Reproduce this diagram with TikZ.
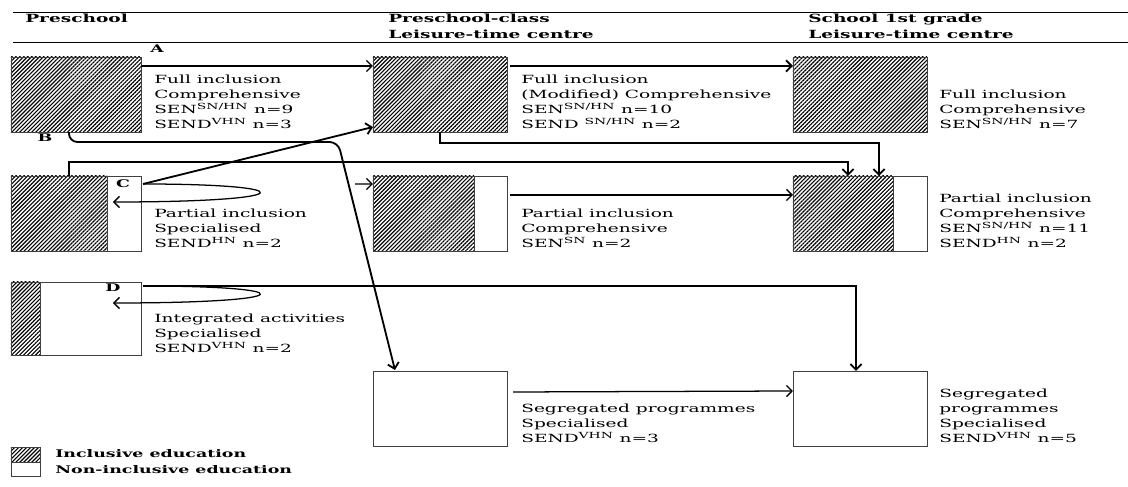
\documentclass[tikz,border=0pt]{standalone}
\usepackage{fontspec}
\setmainfont{DejaVu Serif}[FakeStretch=1.65]
\usetikzlibrary{calc,patterns.meta,arrows.meta}

\tikzset{
  stage/.style={draw=black!75, line width=0.6pt, minimum width=3.35cm, minimum height=1.875cm, inner sep=0pt, outer sep=0pt},
  incl/.style={pattern={Lines[angle=45,distance=2pt,line width=0.8pt]}},
  part/.style={path picture={
    \fill[incl] (path picture bounding box.south west) rectangle ([xshift=#1]path picture bounding box.north west);
    \draw[black!75, line width=0.6pt] ([xshift=#1]path picture bounding box.south west) -- ([xshift=#1]path picture bounding box.north west);}},
  info/.style={anchor=north west, align=left, inner sep=0pt, font=\fontsize{8}{10.7}\selectfont},
  head/.style={anchor=north west, align=left, inner sep=0pt, font=\fontsize{8}{11.4}\selectfont\bfseries},
  tag/.style={inner sep=0pt, font=\fontsize{7.5}{10}\selectfont\bfseries},
  flow/.style={->, line width=1.3pt},
  thinflow/.style={->, line width=0.9pt},
  >={Straight Barb[length=4pt,width=8pt]}
}

\begin{document}
\begin{tikzpicture}[x=0.025cm,y=-0.025cm]
\useasboundingbox (0,0) rectangle (1128,486);
\draw[line width=0.6pt] (13,12) -- (1128,12);
\draw[line width=0.6pt] (13,42) -- (1128,42);
\node[head] (h1) at (25,14) {Preschool};
\node[head] (h2) at (388,14) {Preschool-class\\Leisure-time centre};
\node[head] (h3) at (808,14) {School 1st grade\\Leisure-time centre};

\node[stage, incl, minimum width=3.25cm] (A1) at (76,94.5) {};
\node[stage, incl] (A2) at (440,94.5) {};
\node[stage, incl] (S1) at (860,94.5) {};
\node[stage, part=2.4cm, minimum width=3.25cm] (C1) at (76,213.5) {};
\node[stage, part=2.525cm] (B2) at (440,213.5) {};
\node[stage, part=2.5cm] (S2) at (860,213.5) {};
\node[stage, part=0.725cm, minimum width=3.25cm, minimum height=1.825cm] (D1) at (76,318.5) {};
\node[stage] (B3) at (440,408.5) {};
\node[stage] (S3) at (860,408.5) {};

\node[tag] (labA) at (157,49) {A};
\node[tag] (labB) at (45,138) {B};
\node[tag] (labC) at (123,184) {C};
\node[tag] (labD) at (113,288) {D};

\node[info] (tA1) at (154,74.5) {Full inclusion\\Comprehensive\\SEN\textsuperscript{SN/HN} n=9\\SEND\textsuperscript{VHN} n=3};
\node[info] (tA2) at (521,74.5) {Full inclusion\\(Modified) Comprehensive\\SEN\textsuperscript{SN/HN} n=10\\SEND \textsuperscript{SN/HN} n=2};
\node[info] (tS1) at (939,89.5) {Full inclusion\\Comprehensive\\SEN\textsuperscript{SN/HN} n=7};
\node[info] (tC1) at (154,208.5) {Partial inclusion\\Specialised\\SEND\textsuperscript{HN} n=2};
\node[info] (tB2) at (521,208.5) {Partial inclusion\\Comprehensive\\SEN\textsuperscript{SN} n=2};
\node[info] (tS2) at (939,193.5) {Partial inclusion\\Comprehensive\\SEN\textsuperscript{SN/HN} n=11\\SEND\textsuperscript{HN} n=2};
\node[info] (tD1) at (154,313.5) {Integrated activities\\Specialised\\SEND\textsuperscript{VHN} n=2};
\node[info] (tB3) at (521,403.5) {Segregated programmes\\Specialised\\SEND\textsuperscript{VHN} n=3};
\node[info] (tS3) at (939,388.5) {Segregated\\programmes\\Specialised\\SEND\textsuperscript{VHN} n=5};

\draw[thinflow] ($(A1.north east)+(0,9)$) -- ($(A2.north west)+(0,9)$);
\draw[flow] ($(A2.north east)+(3,9)$) -- ($(S1.north west)+(0,9)$);
\coordinate (bend) at (338,142);
\draw[flow, rounded corners=6] ($(A1.south west)+(58,0)$) |- (bend) -- ($(B3.north west)+(22,-1)$);
\draw[flow] ($(C1.north west)+(58,0)$) -- ++(0,-14) -| ($(S2.north west)+(55,0)$);
\draw[flow] (A2.south) -- ++(0,11) -| ($(S2.north west)+(86,0)$);
\coordinate (cout) at ($(C1.north east)+(2,8)$);
\draw[flow] (cout) -- ($(A2.south west)+(0,-5)$);
\draw[thinflow] (cout) .. controls +(161,0) and +(191,0) .. ($(C1.north west)+(102,26)$);
\coordinate (cstub) at (355,184);
\draw[thinflow] (cstub) -- ($(B2.north west)+(0,8)$);
\draw[thinflow] ($(B2.north east)+(3,19)$) -- ($(S2.north west)+(0,19)$);
\coordinate (dout) at ($(D1.north east)+(2,4)$);
\draw[flow] (dout) -| ($(S3.north west)+(63,0)$);
\draw[thinflow] (dout) .. controls +(161,0) and +(191,0) .. ($(D1.north west)+(102,21)$);
\draw[thinflow] ($(B3.north east)+(6,21)$) -- ($(S3.north west)+(0,20)$);

\node[stage, incl, minimum width=0.725cm, minimum height=0.375cm] (kin) at (25.5,454.5) {};
\node[stage, minimum width=0.725cm, minimum height=0.35cm] (kout) at (25.5,469) {};
\node[tag, anchor=base west] (tin) at (55,457) {Inclusive education};
\node[tag, anchor=base west] (tout) at (55,473) {Non-inclusive education};
\end{tikzpicture}
\end{document}
